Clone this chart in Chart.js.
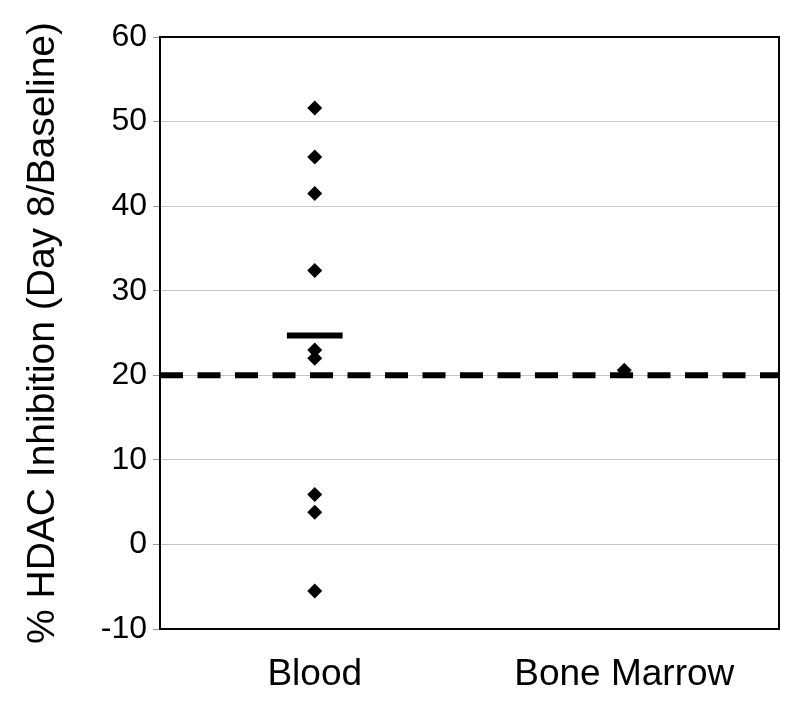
<!DOCTYPE html>
<html>
<head>
<meta charset="utf-8">
<script src="https://cdn.jsdelivr.net/npm/chart.js@4/dist/chart.umd.min.js"></script>
<style>
  html, body { margin: 0; padding: 0; background: #fff; }
  #wrap { width: 800px; height: 708px; }
</style>
</head>
<body>
<div id="wrap"><canvas id="hdacChart"></canvas></div>
<script>
/* HDAC inhibition scatter — Blood vs Bone Marrow */

const categories = ["Blood", "Bone Marrow"];
const bloodValues = [51.6, 45.8, 41.5, 32.4, 23.0, 22.0, 5.9, 3.8, -5.5];
const boneMarrowValues = [20.6];
const bloodMean = 24.7;
const thresholdValue = 20;
const yTicks = [-10, 0, 10, 20, 30, 40, 50, 60];

const FONT = "'Liberation Sans', Arial, Helvetica, sans-serif";

// category index -> x position on the linear axis (centre of each slot)
const catX = (i) => i + 0.5;

// ========== PLUGINS ==========
// black frame round the plot area
const frame = {
  id: "frame",
  afterDatasetsDraw(chart) {
    const { ctx, chartArea: a } = chart;
    ctx.save();
    ctx.strokeStyle = "#000";
    ctx.lineWidth = 2;
    ctx.strokeRect(a.left, a.top, a.right - a.left, a.bottom - a.top);
    ctx.restore();
  },
};

// ========== CHART ==========
new Chart(document.getElementById("hdacChart"), {
  type: "scatter",
  data: {
    datasets: [
      {
        label: "Threshold",
        type: "line",
        data: [
          { x: 0, y: thresholdValue },
          { x: categories.length, y: thresholdValue },
        ],
        borderColor: "#000",
        borderWidth: 6,
        borderDash: [23, 14.5],
        borderCapStyle: "butt",
        pointRadius: 0,
        order: 0,
      },
      {
        label: categories[0],
        data: bloodValues.map((v) => ({ x: catX(0), y: v })),
        pointStyle: "rectRot",
        pointRadius: 7.5,
        backgroundColor: "#000",
        borderWidth: 0,
        order: 1,
      },
      {
        label: categories[1],
        data: boneMarrowValues.map((v) => ({ x: catX(1), y: v })),
        pointStyle: "rectRot",
        pointRadius: 7.5,
        backgroundColor: "#000",
        borderWidth: 0,
        order: 1,
      },
      {
        label: "Blood mean",
        type: "line",
        data: [
          { x: catX(0) - 0.09, y: bloodMean },
          { x: catX(0) + 0.09, y: bloodMean },
        ],
        borderColor: "#000",
        borderWidth: 6,
        borderCapStyle: "butt",
        pointRadius: 0,
        order: 2,
      },
    ],
  },
  options: {
    responsive: true,
    maintainAspectRatio: false,
    animation: false,
    layout: { padding: { top: 37, right: 21, left: 0, bottom: 0 } },
    plugins: {
      legend: { display: false },
      tooltip: { enabled: false },
    },
    scales: {
      x: {
        type: "linear",
        min: 0,
        max: categories.length,
        afterBuildTicks: (scale) => {
          scale.ticks = categories.map((c, i) => ({ value: catX(i) }));
        },
        afterFit: (scale) => {
          scale.height = 79;
        },
        grid: { display: false, drawTicks: false },
        border: { color: "#000", width: 2 },
        ticks: {
          color: "#000",
          padding: 24,
          font: { family: FONT, size: 37 },
          callback: (v) => categories[Math.round(v - 0.5)] ?? "",
        },
      },
      y: {
        min: -10,
        max: 60,
        afterBuildTicks: (scale) => {
          scale.ticks = yTicks.map((v) => ({ value: v }));
        },
        afterFit: (scale) => {
          scale.width = 160;
        },
        grid: {
          color: "#c4c4c4",
          lineWidth: 1,
          tickLength: 7,
          tickColor: "#999",
        },
        border: { color: "#000", width: 2 },
        ticks: {
          color: "#000",
          padding: 6,
          font: { family: FONT, size: 32 },
        },
        title: {
          display: true,
          text: "% HDAC Inhibition (Day 8/Baseline)",
          color: "#000",
          font: { family: FONT, size: 39 },
          padding: { top: 20, bottom: 0 },
        },
      },
    },
  },
  plugins: [frame],
});
</script>
</body>
</html>
